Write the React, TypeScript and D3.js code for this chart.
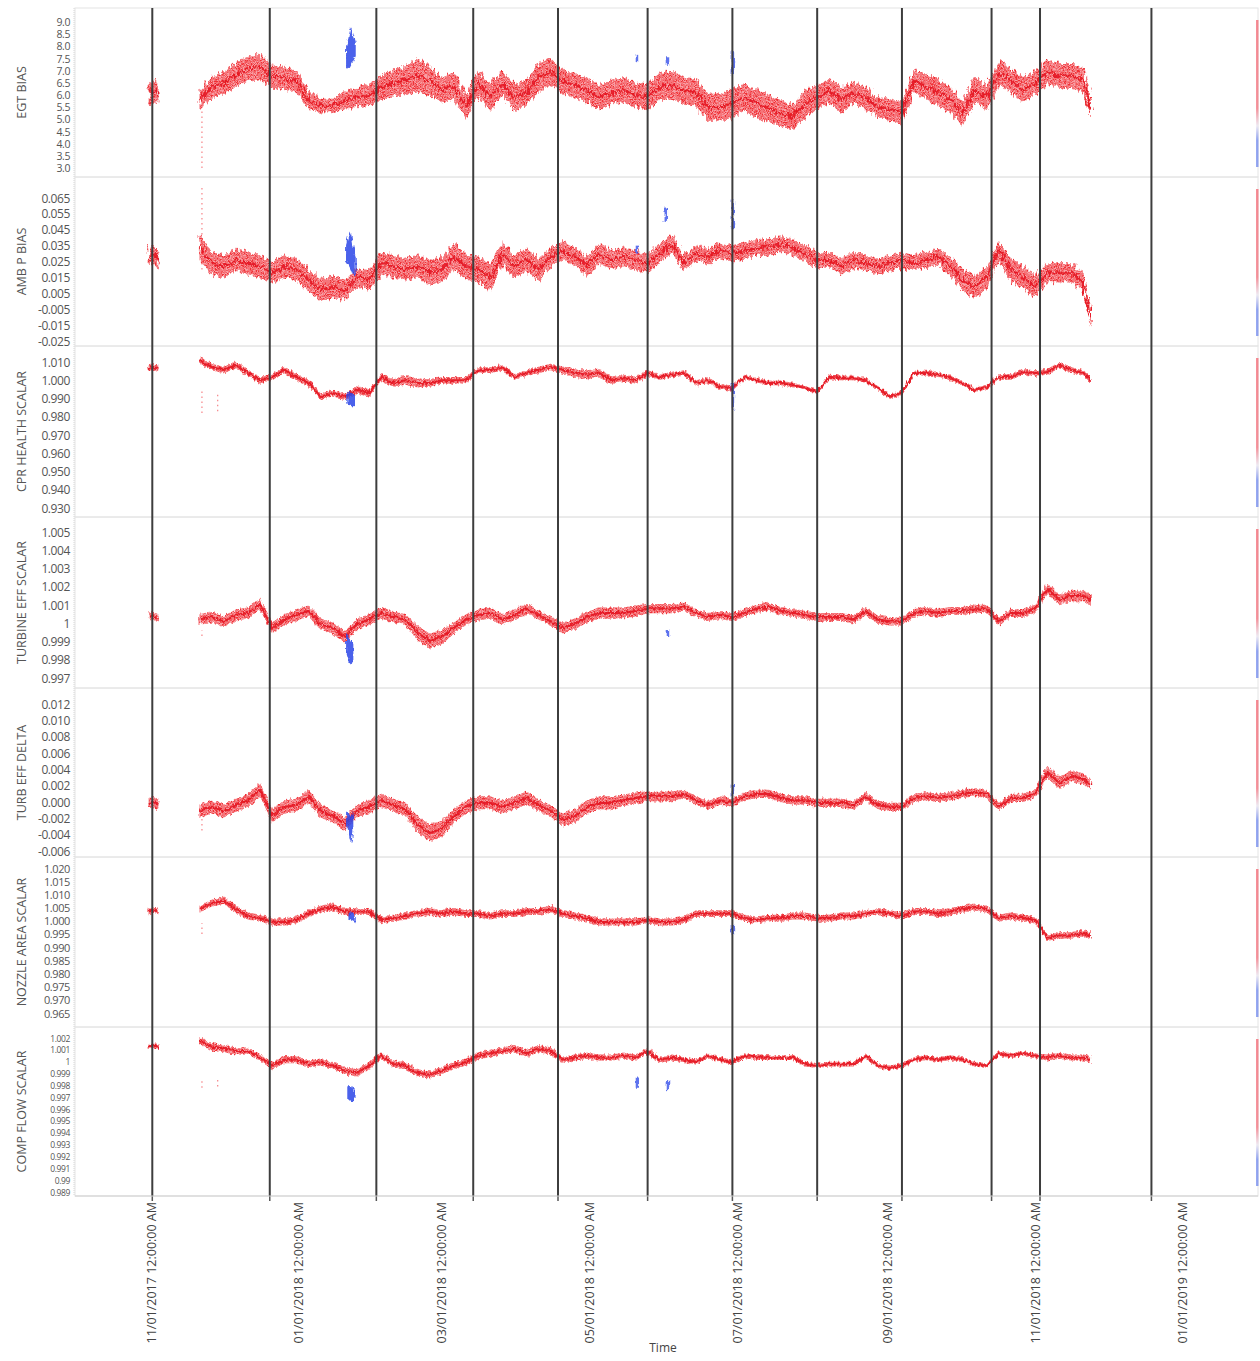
import React from "react";
import * as d3 from "d3";

// ---------- time ----------
const START = new Date(2017, 10, 1); // day 0 of the sample offsets
const X_START = new Date(2017, 9, 1);
const X_END = new Date(2019, 1, 1);
const DAY_MS = 86400000;

const labelDates = ["2017-11-01", "2018-01-01", "2018-03-01", "2018-05-01", "2018-07-01", "2018-09-01", "2018-11-01", "2019-01-01"];
const eventDates = ["2017-11-01 12", "2017-12-20 00", "2018-02-02 00", "2018-03-14 00", "2018-04-18 00", "2018-05-25 00", "2018-06-29 00", "2018-08-03 00", "2018-09-07 00", "2018-10-14 00", "2018-11-03 00", "2018-12-19 00"];

// sample times (days after 01 Nov 2017)
const sampleDays = [
  -1, 1, 3,
  20, 25, 30, 35, 40, 45, 50, 55, 60, 65,
  70, 75, 80, 85, 90, 95, 100, 105, 110, 115,
  120, 125, 130, 135, 140, 145, 150, 155, 160, 165,
  170, 175, 180, 185, 190, 195, 200, 205, 210, 215,
  220, 225, 230, 235, 240, 245, 250, 255, 260, 265,
  270, 275, 280, 285, 290, 295, 300, 305, 310, 315,
  320, 325, 330, 335, 340, 345, 350, 355, 360, 365,
  370, 375, 380, 385, 388,
];

// ---------- EGT BIAS ----------
const egtTicks = ["9.0", "8.5", "8.0", "7.5", "7.0", "6.5", "6.0", "5.5", "5.0", "4.5", "4.0", "3.5", "3.0"];
const egtMid = [
  6.0, 6.2, 6.0,
  5.8, 6.3, 6.5, 6.8, 7.1, 7.15, 6.75, 6.7, 6.55, 5.8,
  5.55, 5.55, 5.8, 5.9, 6.0, 6.3, 6.5, 6.6, 6.8, 6.6,
  6.2, 6.4, 5.5, 6.5, 5.9, 6.5, 5.9, 6.1, 6.75, 6.95,
  6.55, 6.4, 6.2, 5.9, 6.1, 6.2, 6.0, 5.9, 6.35, 6.4,
  6.2, 6.1, 5.5, 5.5, 5.65, 5.9, 5.65, 5.45, 5.25, 5.1,
  5.65, 5.9, 6.2, 5.8, 6.1, 5.9, 5.5, 5.4, 5.25, 6.6,
  6.35, 6.1, 5.8, 5.25, 6.2, 5.9, 6.9, 6.6, 6.2, 6.5,
  6.95, 6.8, 6.8, 6.6, 5.4,
];
const egtSpread = [
  0.4, 0.5, 0.4,
  0.4, 0.45, 0.45, 0.5, 0.5, 0.5, 0.45, 0.45, 0.45, 0.35,
  0.3, 0.3, 0.35, 0.4, 0.45, 0.5, 0.55, 0.6, 0.7, 0.6,
  0.5, 0.55, 0.5, 0.55, 0.55, 0.5, 0.55, 0.5, 0.6, 0.55,
  0.5, 0.5, 0.5, 0.5, 0.5, 0.5, 0.5, 0.55, 0.55, 0.6,
  0.55, 0.55, 0.55, 0.55, 0.6, 0.55, 0.6, 0.55, 0.55, 0.5,
  0.55, 0.5, 0.5, 0.5, 0.45, 0.45, 0.4, 0.45, 0.45, 0.45,
  0.5, 0.55, 0.5, 0.5, 0.5, 0.5, 0.5, 0.5, 0.5, 0.5,
  0.5, 0.5, 0.5, 0.5, 0.4,
];
const egtBlue = [[80.5, 7.2, 8.0], [81.5, 7.0, 8.3], [82.5, 7.2, 8.9], [83.5, 7.4, 8.5], [84.5, 7.6, 8.2], [200.6, 7.35, 7.65], [213.4, 7.2, 7.55], [240.2, 6.8, 7.8]];
const egtStrays = [[21, 3.0, 5.6]];

// ---------- AMB P BIAS ----------
const ambTicks = ["0.065", "0.055", "0.045", "0.035", "0.025", "0.015", "0.005", "-0.005", "-0.015", "-0.025"];
const ambMid = [
  0.028, 0.030, 0.026,
  0.034, 0.024, 0.022, 0.026, 0.024, 0.022, 0.018, 0.022, 0.020, 0.0134,
  0.007, 0.009, 0.007, 0.015, 0.0134, 0.024, 0.022, 0.020, 0.022, 0.018,
  0.020, 0.028, 0.022, 0.020, 0.015, 0.030, 0.022, 0.026, 0.020, 0.028,
  0.032, 0.028, 0.022, 0.030, 0.026, 0.028, 0.026, 0.024, 0.030, 0.036,
  0.024, 0.030, 0.028, 0.032, 0.030, 0.032, 0.0335, 0.034, 0.036, 0.0335,
  0.030, 0.026, 0.026, 0.022, 0.026, 0.024, 0.022, 0.024, 0.026, 0.024,
  0.026, 0.028, 0.022, 0.0134, 0.009, 0.015, 0.032, 0.020, 0.015, 0.009,
  0.018, 0.018, 0.018, 0.0115, -0.010,
];
const ambSpread = [
  0.005, 0.006, 0.005,
  0.008, 0.007, 0.007, 0.007, 0.007, 0.007, 0.007, 0.007, 0.007, 0.007,
  0.007, 0.007, 0.006, 0.006, 0.006, 0.007, 0.007, 0.007, 0.007, 0.008,
  0.008, 0.008, 0.008, 0.008, 0.008, 0.007, 0.007, 0.007, 0.007, 0.006,
  0.006, 0.006, 0.006, 0.006, 0.006, 0.006, 0.006, 0.006, 0.006, 0.006,
  0.005, 0.005, 0.005, 0.005, 0.005, 0.005, 0.005, 0.005, 0.005, 0.005,
  0.005, 0.005, 0.005, 0.005, 0.005, 0.005, 0.005, 0.005, 0.005, 0.005,
  0.005, 0.005, 0.006, 0.007, 0.007, 0.007, 0.006, 0.007, 0.007, 0.007,
  0.006, 0.006, 0.006, 0.006, 0.006,
];
const ambBlue = [[80.5, 0.025, 0.036], [81.5, 0.023, 0.042], [82.5, 0.020, 0.046], [83.5, 0.015, 0.034], [84.5, 0.016, 0.028], [200.6, 0.030, 0.035], [212.5, 0.050, 0.059], [240.2, 0.046, 0.064]];
const ambStrays = [[21, 0.02, 0.072]];

// ---------- CPR HEALTH SCALAR ----------
const cprTicks = ["1.010", "1.000", "0.990", "0.980", "0.970", "0.960", "0.950", "0.940", "0.930"];
const cprMid = [
  1.0067, 1.0072, 1.0065,
  1.011, 1.0073, 1.0056, 1.0084, 1.004, 1.000, 1.0018, 1.0056, 1.0018, 0.9985,
  0.991, 0.993, 0.991, 0.9947, 0.993, 1.0018, 0.9985, 1.000, 0.9985, 0.9985,
  1.000, 1.000, 1.000, 1.0056, 1.0056, 1.0067, 1.0018, 1.004, 1.0056, 1.0073,
  1.0056, 1.004, 1.003, 1.004, 1.000, 1.0012, 1.000, 1.004, 1.0018, 1.003,
  1.004, 0.9985, 1.000, 0.9963, 0.9957, 1.0018, 1.000, 0.9985, 0.9985, 0.9974,
  0.9957, 0.9936, 1.0018, 1.0012, 1.0012, 1.000, 0.9957, 0.991, 0.993, 1.004,
  1.004, 1.003, 1.0012, 0.9985, 0.9947, 0.9963, 1.0018, 1.0018, 1.0045, 1.004,
  1.0045, 1.0084, 1.0056, 1.004, 1.000,
];
const cprSpread = [
  0.0015, 0.0015, 0.0015,
  0.002, 0.0018, 0.0018, 0.0018, 0.0018, 0.0018, 0.0018, 0.0018, 0.0018, 0.0018,
  0.0018, 0.0018, 0.0018, 0.002, 0.002, 0.002, 0.002, 0.0025, 0.0025, 0.002,
  0.0018, 0.0018, 0.0018, 0.0015, 0.0015, 0.0015, 0.0015, 0.0015, 0.0018, 0.0018,
  0.002, 0.0025, 0.0025, 0.0025, 0.002, 0.002, 0.0018, 0.0015, 0.0015, 0.0015,
  0.0015, 0.0015, 0.0015, 0.0015, 0.0015, 0.0012, 0.0012, 0.0012, 0.0012, 0.0012,
  0.0012, 0.0012, 0.0012, 0.0012, 0.0012, 0.0012, 0.0012, 0.0012, 0.0012, 0.0012,
  0.0012, 0.0012, 0.0012, 0.0012, 0.0012, 0.0012, 0.0015, 0.0015, 0.0015, 0.0015,
  0.0015, 0.0018, 0.0015, 0.0015, 0.0015,
];
const cprBlue = [[81, 0.988, 0.9935], [82.5, 0.9853, 0.9936], [84, 0.986, 0.992], [240.2, 0.984, 0.9985]];
const cprStrays = [[21, 0.982, 0.994], [27.5, 0.983, 0.992]];

// ---------- TURBINE EFF SCALAR ----------
const turbTicks = ["1.005", "1.004", "1.003", "1.002", "1.001", "1", "0.999", "0.998", "0.997"];
const turbMid = [
  1.00045, 1.0004, 1.0003,
  1.0002, 1.00034, 1.0001, 1.00045, 1.00056, 1.00105, 0.99974, 1.0002, 1.00045, 1.00067,
  0.99996, 0.99974, 0.99925, 0.99996, 1.0002, 1.00056, 1.00034, 1.0002, 0.99947, 0.99903,
  0.99925, 0.99974, 1.0002, 1.00045, 1.00056, 1.0002, 1.00045, 1.0008, 1.00045, 1.0001,
  0.99974, 0.99996, 1.00034, 1.00056, 1.00056, 1.00056, 1.00067, 1.0008, 1.0008, 1.0008,
  1.0009, 1.00056, 1.00034, 1.00045, 1.00034, 1.00056, 1.0008, 1.0009, 1.00067, 1.00056,
  1.00045, 1.00034, 1.00034, 1.00034, 1.0002, 1.00067, 1.0002, 1.0001, 1.0001, 1.00056,
  1.00067, 1.00056, 1.00067, 1.00067, 1.0008, 1.0008, 1.0001, 1.00056, 1.00056, 1.0008,
  1.0019, 1.00128, 1.0015, 1.0015, 1.00128,
];
const turbSpread = [
  0.0002, 0.0002, 0.0002,
  0.0003, 0.0003, 0.0003, 0.0003, 0.0003, 0.0003, 0.0003, 0.0003, 0.0003, 0.0003,
  0.0003, 0.0003, 0.0003, 0.0003, 0.0003, 0.0003, 0.0003, 0.0003, 0.0004, 0.0004,
  0.0004, 0.0003, 0.0003, 0.0003, 0.0003, 0.0003, 0.0003, 0.0003, 0.00025, 0.00025,
  0.0003, 0.0003, 0.0003, 0.0003, 0.0003, 0.0003, 0.0003, 0.00025, 0.00025, 0.00025,
  0.00022, 0.00022, 0.00022, 0.00022, 0.00022, 0.00022, 0.00022, 0.00022, 0.00022, 0.00022,
  0.00022, 0.00022, 0.00022, 0.00022, 0.00022, 0.00022, 0.00022, 0.00022, 0.00022, 0.00022,
  0.00022, 0.00022, 0.00022, 0.00022, 0.00022, 0.00022, 0.00022, 0.00022, 0.00022, 0.00022,
  0.0003, 0.0003, 0.0003, 0.0003, 0.0003,
];
const turbBlue = [[80.5, 0.9985, 0.9995], [81.5, 0.998, 0.9992], [82.5, 0.9976, 0.9991], [83.5, 0.998, 0.9988], [213.4, 0.9993, 0.99963]];
const turbStrays = [[21, 0.9993, 0.9996]];

// ---------- TURB EFF DELTA ----------
const tedTicks = ["0.012", "0.010", "0.008", "0.006", "0.004", "0.002", "0.000", "-0.002", "-0.004", "-0.006"];
const tedMid = [
  -0.0001, 0.0, -0.0003,
  -0.0011, -0.0006, -0.0011, -0.0004, 0.0002, 0.0015, -0.0017, -0.0006, -0.0004, 0.0007,
  -0.0011, -0.0017, -0.0027, -0.0011, -0.0006, 0.0002, -0.0004, -0.0009, -0.0027, -0.0038,
  -0.0033, -0.0017, -0.0006, -0.0001, -0.0001, -0.0006, -0.0001, 0.0005, -0.0004, -0.0011,
  -0.0022, -0.0017, -0.0006, -0.0001, -0.0001, 0.0002, 0.0005, 0.0007, 0.0007, 0.0007,
  0.001, 0.0002, -0.0004, 0.0002, -0.0001, 0.0007, 0.001, 0.001, 0.0005, 0.0002,
  0.0002, -0.0001, -0.0001, -0.0001, -0.0004, 0.0007, -0.0004, -0.0006, -0.0006, 0.0005,
  0.0007, 0.0005, 0.0007, 0.001, 0.0012, 0.001, -0.0006, 0.0005, 0.0005, 0.001,
  0.0037, 0.0023, 0.0032, 0.0028, 0.0021,
];
const tedSpread = [
  0.0006, 0.0006, 0.0006,
  0.0008, 0.0008, 0.0008, 0.0008, 0.0008, 0.0008, 0.0008, 0.0008, 0.0008, 0.0008,
  0.0008, 0.0008, 0.0008, 0.0008, 0.0008, 0.0008, 0.0008, 0.0008, 0.001, 0.001,
  0.001, 0.0008, 0.0008, 0.0008, 0.0008, 0.0008, 0.0008, 0.0008, 0.0007, 0.0007,
  0.0008, 0.0008, 0.0008, 0.0008, 0.0008, 0.0007, 0.0007, 0.0006, 0.0006, 0.0006,
  0.0005, 0.0005, 0.0005, 0.0005, 0.0005, 0.0005, 0.0005, 0.0005, 0.0005, 0.0005,
  0.0005, 0.0005, 0.0005, 0.0005, 0.0005, 0.0005, 0.0005, 0.0005, 0.0005, 0.0005,
  0.0005, 0.0005, 0.0005, 0.0005, 0.0005, 0.0005, 0.0005, 0.0005, 0.0005, 0.0005,
  0.0007, 0.0007, 0.0007, 0.0007, 0.0007,
];
const tedBlue = [[80.5, -0.0025, -0.0012], [81.5, -0.0035, -0.0012], [82.5, -0.0056, -0.002], [83.5, -0.0035, -0.0012], [240.2, 0.0009, 0.0021]];
const tedStrays = [[21, -0.0035, -0.0015]];

// ---------- NOZZLE AREA SCALAR ----------
const nozTicks = ["1.020", "1.015", "1.010", "1.005", "1.000", "0.995", "0.990", "0.985", "0.980", "0.975", "0.970", "0.965"];
const nozMid = [
  1.0035, 1.004, 1.0035,
  1.0044, 1.0067, 1.0076, 1.0044, 1.0018, 1.001, 0.9995, 0.9995, 1.0003, 1.0027,
  1.0044, 1.0052, 1.0035, 1.0035, 1.0035, 1.0003, 1.001, 1.0018, 1.0027, 1.0035,
  1.0027, 1.0035, 1.0027, 1.0027, 1.0018, 1.0027, 1.0027, 1.0035, 1.0035, 1.0044,
  1.0027, 1.0018, 1.001, 0.9995, 0.9995, 0.9995, 0.9995, 1.0003, 0.9995, 0.9995,
  1.0003, 1.0027, 1.0027, 1.0027, 1.0027, 1.001, 1.0003, 1.001, 1.001, 1.0018,
  1.0018, 1.001, 1.001, 1.0018, 1.0018, 1.0027, 1.0035, 1.0027, 1.0018, 1.0035,
  1.0035, 1.0027, 1.0035, 1.0044, 1.0052, 1.0044, 1.001, 1.0018, 1.001, 1.0003,
  0.9936, 0.9944, 0.9944, 0.9953, 0.9944,
];
const nozSpread = [
  0.001, 0.001, 0.001,
  0.0013, 0.0013, 0.0013, 0.0013, 0.0013, 0.0013, 0.0013, 0.0013, 0.0013, 0.0013,
  0.0013, 0.0013, 0.0013, 0.0013, 0.0013, 0.0013, 0.0013, 0.0013, 0.0013, 0.0013,
  0.0013, 0.0013, 0.0013, 0.0013, 0.0013, 0.0013, 0.0013, 0.0013, 0.0013, 0.0013,
  0.0013, 0.0013, 0.0013, 0.0013, 0.0013, 0.0013, 0.0013, 0.0013, 0.0013, 0.0013,
  0.0013, 0.0013, 0.0013, 0.0013, 0.0013, 0.0013, 0.0013, 0.0013, 0.0013, 0.0013,
  0.0013, 0.0013, 0.0013, 0.0013, 0.0013, 0.0013, 0.0013, 0.0013, 0.0013, 0.0013,
  0.0013, 0.0013, 0.0013, 0.0013, 0.0013, 0.0013, 0.0013, 0.0013, 0.0013, 0.0013,
  0.0012, 0.0012, 0.0012, 0.0012, 0.0012,
];
const nozBlue = [[81.5, 1.0005, 1.003], [83, 1.0, 1.0035], [84.5, 0.999, 1.002], [240.2, 0.9946, 0.9984]];
const nozStrays = [[21, 0.995, 0.999]];

// ---------- COMP FLOW SCALAR ----------
const compTicks = ["1.002", "1.001", "1", "0.999", "0.998", "0.997", "0.996", "0.995", "0.994", "0.993", "0.992", "0.991", "0.99", "0.989"];
const compMid = [
  1.00127, 1.0014, 1.0012,
  1.0018, 1.00127, 1.0011, 1.0009, 1.0009, 1.00035, 0.99966, 1.00017, 1.00017, 0.9998,
  0.99997, 0.99966, 0.99926, 0.99907, 0.99966, 1.0005, 0.9998, 0.99966, 0.99907, 0.99888,
  0.99926, 0.99966, 0.99997, 1.0005, 1.0007, 1.0009, 1.0011, 1.0007, 1.0011, 1.0009,
  1.00017, 1.00035, 1.0005, 1.00035, 1.00035, 1.0005, 1.00035, 1.0009, 1.00017, 1.00035,
  1.00017, 0.99997, 1.0005, 1.00017, 0.99997, 1.0005, 1.00035, 1.00035, 1.00035, 1.00035,
  0.9998, 0.99966, 0.9998, 0.9998, 0.9998, 1.0005, 0.99966, 0.99947, 0.99966, 1.00017,
  1.00035, 1.00017, 1.00035, 1.00017, 0.9998, 0.99966, 1.0007, 1.0005, 1.0007, 1.0005,
  1.00035, 1.0005, 1.00035, 1.00035, 1.00017,
];
const compSpread = [
  0.0002, 0.0002, 0.0002,
  0.0003, 0.0003, 0.0003, 0.0003, 0.0003, 0.0003, 0.0003, 0.0003, 0.0003, 0.0003,
  0.0003, 0.0003, 0.0003, 0.0003, 0.0003, 0.0003, 0.0003, 0.0003, 0.0003, 0.0003,
  0.0003, 0.0003, 0.0003, 0.0003, 0.0003, 0.0003, 0.0003, 0.0003, 0.0003, 0.0003,
  0.00025, 0.00025, 0.00025, 0.00025, 0.00025, 0.00025, 0.00025, 0.00025, 0.00025, 0.00025,
  0.0002, 0.0002, 0.0002, 0.0002, 0.0002, 0.0002, 0.0002, 0.0002, 0.0002, 0.0002,
  0.0002, 0.0002, 0.0002, 0.0002, 0.0002, 0.0002, 0.0002, 0.0002, 0.0002, 0.0002,
  0.0002, 0.0002, 0.0002, 0.0002, 0.0002, 0.0002, 0.0002, 0.0002, 0.0002, 0.0002,
  0.00025, 0.00025, 0.00025, 0.00025, 0.00025,
];
const compBlue = [[81, 0.9969, 0.9979], [82.5, 0.9966, 0.998], [84, 0.9967, 0.9977], [200.6, 0.9978, 0.99866], [213.4, 0.9976, 0.99845]];
const compStrays = [[21, 0.9978, 0.9986], [27.5, 0.9979, 0.9985]];

// ---------- layout (pixels) ----------
const PLOT_LEFT = 75;
const PLOT_RIGHT = 1258;
const PANEL_BOUNDS = [[8, 177], [177, 346], [346, 517], [517, 688], [688, 857], [857, 1027], [1027, 1196]];
const TICK_SPAN = [[22, 168], [198, 341], [362, 508], [532, 678], [704, 851], [868, 1013], [1038, 1192]];

const PANELS = [
  { name: "EGT BIAS", ticks: egtTicks, mid: egtMid, spread: egtSpread, blue: egtBlue, strays: egtStrays, font: 10.5 },
  { name: "AMB P BIAS", ticks: ambTicks, mid: ambMid, spread: ambSpread, blue: ambBlue, strays: ambStrays, font: 12 },
  { name: "CPR HEALTH SCALAR", ticks: cprTicks, mid: cprMid, spread: cprSpread, blue: cprBlue, strays: cprStrays, font: 12 },
  { name: "TURBINE EFF SCALAR", ticks: turbTicks, mid: turbMid, spread: turbSpread, blue: turbBlue, strays: turbStrays, font: 12 },
  { name: "TURB EFF DELTA", ticks: tedTicks, mid: tedMid, spread: tedSpread, blue: tedBlue, strays: tedStrays, font: 12 },
  { name: "NOZZLE AREA SCALAR", ticks: nozTicks, mid: nozMid, spread: nozSpread, blue: nozBlue, strays: nozStrays, font: 11 },
  { name: "COMP FLOW SCALAR", ticks: compTicks, mid: compMid, spread: compSpread, blue: compBlue, strays: compStrays, font: 8.5 },
];

const toDate = (d: number) => new Date(START.getTime() + d * DAY_MS);

// split the sample indices where the data have a gap
const segments: number[][] = (() => {
  const out: number[][] = [];
  let cur: number[] = [];
  sampleDays.forEach((d, i) => {
    if (i > 0 && d - sampleDays[i - 1] > 10) {
      out.push(cur);
      cur = [];
    }
    cur.push(i);
  });
  out.push(cur);
  return out;
})();

// group neighbouring blue observations into clusters
function groupBlue(blue: number[][]): number[][][] {
  const out: number[][][] = [];
  blue.forEach((b, i) => {
    if (i > 0 && b[0] - blue[i - 1][0] <= 2) out[out.length - 1].push(b);
    else out.push([b]);
  });
  return out;
}

const RED = "#ee1c24";
const BLUE = "#2a45e8";
const FONT = "'Open Sans', 'Noto Sans', sans-serif";

export default function App() {
  const x = d3.scaleTime().domain([X_START, X_END]).range([76, 1258]);
  const parseLabel = d3.timeParse("%Y-%m-%d");
  const parseEvent = d3.timeParse("%Y-%m-%d %H");
  const fmt = d3.timeFormat("%m/%d/%Y %I:%M:%S %p");
  const events = eventDates.map((s) => parseEvent(s) as Date);
  const labels = labelDates.map((s) => parseLabel(s) as Date);

  return (
    <svg width={1260} height={1361} style={{ position: "absolute", left: 0, top: 0, background: "#fff" }} fontFamily={FONT}>
      <defs>
        <pattern id="speckle" width="3" height="3" patternUnits="userSpaceOnUse">
          <rect x="0" y="0" width="1.4" height="1.6" fill={RED} opacity="0.85" />
          <rect x="1.5" y="1.5" width="1.4" height="1.5" fill={RED} opacity="0.65" />
        </pattern>
        <filter id="jitter" filterUnits="userSpaceOnUse" x="0" y="0" width="1260" height="1361">
          <feTurbulence type="fractalNoise" baseFrequency="0.45 0.12" numOctaves="2" seed="7" result="noise" />
          <feDisplacementMap in="SourceGraphic" in2="noise" scale="9" xChannelSelector="B" yChannelSelector="G" />
        </filter>
        <filter id="jitterSmall" filterUnits="userSpaceOnUse" x="0" y="0" width="1260" height="1361">
          <feTurbulence type="fractalNoise" baseFrequency="0.5 0.15" numOctaves="2" seed="3" result="noise" />
          <feDisplacementMap in="SourceGraphic" in2="noise" scale="5" xChannelSelector="B" yChannelSelector="G" />
        </filter>
        <linearGradient id="legendGrad" x1="0" y1="0" x2="0" y2="1">
          <stop offset="0" stopColor="#f03040" />
          <stop offset="0.6" stopColor="#f04050" />
          <stop offset="0.72" stopColor="#e8e0f0" />
          <stop offset="0.82" stopColor="#4060e8" />
          <stop offset="1" stopColor="#4060e8" />
        </linearGradient>
        {PANEL_BOUNDS.map(([t, b], i) => (
          <clipPath id={`clip${i}`} key={i}>
            <rect x={PLOT_LEFT} y={t} width={PLOT_RIGHT - PLOT_LEFT} height={b - t} />
          </clipPath>
        ))}
      </defs>
      <rect x={0} y={0} width={1260} height={1361} fill="#fff" />

      {PANELS.map((p, pi) => {
        const [top, bottom] = PANEL_BOUNDS[pi];
        const [ty0, ty1] = TICK_SPAN[pi];
        const vals = p.ticks.map((t) => parseFloat(t));
        const y = d3.scaleLinear().domain([d3.min(vals) as number, d3.max(vals) as number]).range([ty1, ty0]);
        const area = d3
          .area<number>()
          .x((i) => x(toDate(sampleDays[i])))
          .y0((i) => y(p.mid[i] - p.spread[i]))
          .y1((i) => y(p.mid[i] + p.spread[i]));
        const line = d3
          .line<number>()
          .x((i) => x(toDate(sampleDays[i])))
          .y((i) => y(p.mid[i]));
        const blueArea = d3
          .area<number[]>()
          .x((b) => x(toDate(b[0])))
          .y0((b) => y(b[1]))
          .y1((b) => y(b[2]))
          .curve(d3.curveBasis);
        const bandPx = y(p.mid[20] - p.spread[20]) - y(p.mid[20] + p.spread[20]);
        const filt = bandPx > 14 ? "url(#jitter)" : "url(#jitterSmall)";
        return (
          <g key={p.name}>
            {/* panel frame */}
            <rect x={PLOT_LEFT} y={top} width={PLOT_RIGHT - PLOT_LEFT} height={bottom - top} fill="none" stroke="#e4e4e4" strokeWidth={1} />
            {/* y label */}
            <text
              transform={`translate(21,${(top + bottom) / 2}) rotate(-90)`}
              textAnchor="middle"
              dominantBaseline="central"
              fontSize={12.5}
              fill="#555"
            >
              {p.name}
            </text>
            {/* tick labels */}
            {p.ticks.map((t, k) => (
              <text key={t} x={70} y={y(vals[k])} textAnchor="end" dominantBaseline="central" fontSize={p.font} fill="#555" letterSpacing={-0.4}>
                {t}
              </text>
            ))}
            <g clipPath={`url(#clip${pi})`}>
              {p.strays.map(([d, lo, hi], k) => (
                <line key={k} x1={x(toDate(d))} x2={x(toDate(d))} y1={y(lo)} y2={y(hi)} stroke={RED} strokeWidth={1.2} strokeDasharray="1.5 3.5" opacity={0.55} />
              ))}
              <g filter={filt}>
                {segments.map((seg, k) => (
                  <g key={k}>
                    <path d={area(seg) || ""} fill={RED} opacity={0.42} />
                    <path d={area(seg) || ""} fill="url(#speckle)" />
                    <path d={line(seg) || ""} fill="none" stroke="#e3121b" strokeWidth={2.2} strokeLinejoin="round" opacity={0.85} />
                  </g>
                ))}
              </g>
              <g filter="url(#jitterSmall)">
                {groupBlue(p.blue).map((g, k) =>
                  g.length > 1 ? (
                    <path key={k} d={blueArea(g) || ""} fill={BLUE} opacity={0.85} />
                  ) : (
                    <line key={k} x1={x(toDate(g[0][0]))} x2={x(toDate(g[0][0]))} y1={y(g[0][1])} y2={y(g[0][2])} stroke={BLUE} strokeWidth={2.5} opacity={0.75} />
                  )
                )}
              </g>
            </g>
            {/* right-edge colour strip */}
            <rect x={1256} y={top + 12} width={2.5} height={bottom - top - 22} fill="url(#legendGrad)" opacity={0.55} />
          </g>
        );
      })}

      {/* left axis line */}
      <line x1={PLOT_LEFT - 1} x2={PLOT_LEFT - 1} y1={8} y2={1196} stroke="#d6d6d6" strokeWidth={1} strokeDasharray="1 1" />

      {/* event lines */}
      {events.map((d, i) => (
        <g key={i}>
          <line x1={x(d)} x2={x(d)} y1={8} y2={1196} stroke="#3d3d3d" strokeWidth={2} />
          <line x1={x(d)} x2={x(d)} y1={1196} y2={1201} stroke="#555" strokeWidth={1.5} />
        </g>
      ))}
      {/* bottom axis line */}
      <line x1={PLOT_LEFT} x2={PLOT_RIGHT} y1={1196} y2={1196} stroke="#cfcfcf" strokeWidth={1} />

      {/* time labels */}
      {labels.map((d, i) => (
        <text
          key={i}
          transform={`translate(${x(d)},1202) rotate(-90)`}
          textAnchor="end"
          dominantBaseline="central"
          fontSize={12.5}
          fill="#444"
        >
          {fmt(d)}
        </text>
      ))}
      <text x={663} y={1352} textAnchor="middle" fontSize={12} fill="#444">
        Time
      </text>
    </svg>
  );
}
